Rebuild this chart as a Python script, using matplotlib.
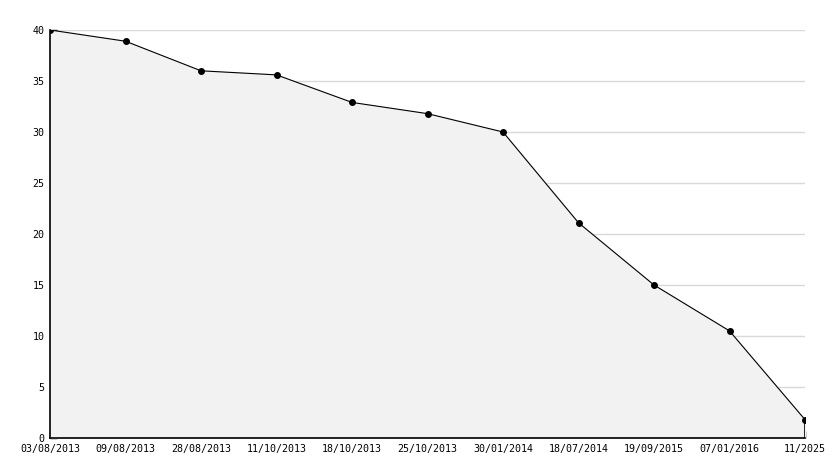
import matplotlib
matplotlib.use("Agg")
import matplotlib.pyplot as plt
from matplotlib.ticker import MultipleLocator

dates = ['03/08/2013', '09/08/2013', '28/08/2013', '11/10/2013', '18/10/2013',
         '25/10/2013', '30/01/2014', '18/07/2014', '19/09/2015', '07/01/2016',
         '11/2025']
values = [40, 38.9, 36.0, 35.6, 32.9, 31.8, 30.0, 21.1, 15.0, 10.5, 1.8]

x = list(range(len(dates)))

fig = plt.figure(figsize=(8.34, 4.68), dpi=100)
ax = fig.add_axes([50 / 834, 30 / 468, 755 / 834, 408 / 468])

ax.fill_between(x, values, 0, color='#f2f2f2', zorder=1)
ax.plot(x, values, color='black', lw=0.8, marker='o', ms=4, zorder=3)
# right edge of the filled area
ax.plot([x[-1], x[-1]], [0, values[-1]], color='black', lw=1.2, zorder=3)

ax.set_xlim(0, len(dates) - 1)
ax.set_ylim(0, 40)
ax.yaxis.set_major_locator(MultipleLocator(5))
ax.yaxis.set_minor_locator(MultipleLocator(1))
ax.set_xticks(x)
ax.set_xticklabels(dates)

ax.grid(axis='y', color='#d9d9d9', lw=1, zorder=0)
ax.set_axisbelow(True)

for s in ['top', 'right']:
    ax.spines[s].set_visible(False)
for s in ['left', 'bottom']:
    ax.spines[s].set_linewidth(1.2)
    ax.spines[s].set_zorder(4)

font = 'DejaVu Sans Mono'
ax.tick_params(axis='both', which='major', direction='in', length=5, width=1,
               labelsize=7.2, colors='black')
ax.tick_params(axis='y', which='minor', direction='in', length=3, width=1)
ax.tick_params(axis='x', pad=4)
ax.tick_params(axis='y', pad=4)
for lab in ax.get_xticklabels() + ax.get_yticklabels():
    lab.set_family(font)
# the bottom label sits a little higher, as in the original
ax.get_yticklabels()[0].set_verticalalignment('bottom')

fig.savefig('out.png', dpi=100)
